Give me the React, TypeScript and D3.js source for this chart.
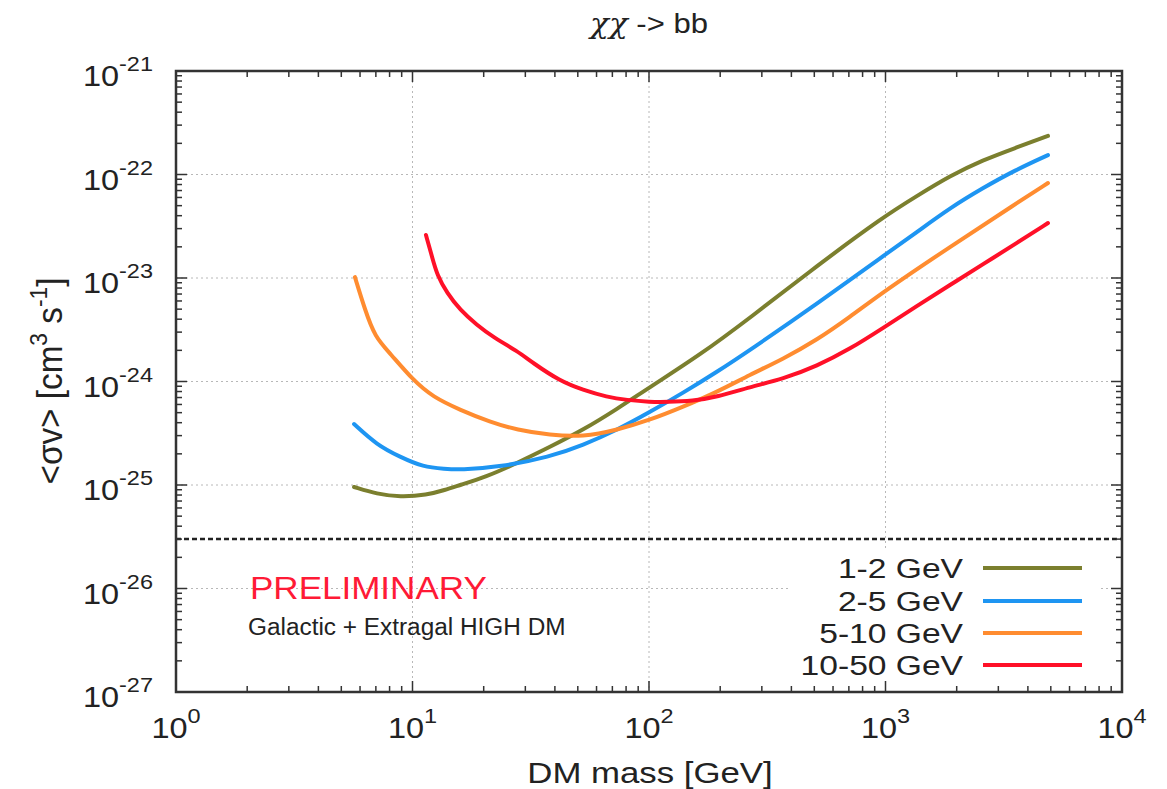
import React from "react";
import * as d3 from "d3";

// ---- Data ----
const series1Mass = [5.66, 7.08, 8.86, 11.5, 13.7, 15.9, 20.3, 27.7, 38.1, 52.6, 73.3, 101, 164, 267, 513, 976, 1358, 1874, 2583, 3530, 4864];
const series1Sv = [9.57e-26, 8.18e-26, 7.66e-26, 8.0e-26, 8.95e-26, 1.0e-25, 1.19e-25, 1.63e-25, 2.33e-25, 3.4e-25, 5.42e-25, 8.85e-25, 1.8e-24, 4.11e-24, 1.31e-23, 3.88e-23, 6.2e-23, 9.7e-23, 1.38e-22, 1.8e-22, 2.36e-22];

const series2Mass = [5.66, 7.08, 8.86, 11.1, 13.7, 15.9, 23.4, 38.1, 52.6, 73.3, 101, 139, 194, 267, 513, 976, 1358, 1874, 2583, 3530, 4864];
const series2Sv = [3.88e-25, 2.43e-25, 1.87e-25, 1.49e-25, 1.43e-25, 1.4e-25, 1.49e-25, 1.87e-25, 2.43e-25, 3.4e-25, 5.07e-25, 7.74e-25, 1.24e-24, 2.01e-24, 5.61e-24, 1.63e-23, 2.78e-23, 4.75e-23, 7.41e-23, 1.1e-22, 1.54e-22];

const series3Mass = [5.71, 6.3, 6.94, 8.03, 10.05, 12.2, 15.9, 21.3, 27.7, 38.1, 52.6, 73.3, 101, 139, 194, 267, 369, 513, 708, 976, 1874, 3597, 4864];
const series3Sv = [1.02e-23, 4.91e-24, 2.69e-24, 1.88e-24, 1.03e-24, 7.08e-25, 5.31e-25, 4.06e-25, 3.4e-25, 3.04e-25, 2.91e-25, 3.4e-25, 4.25e-25, 5.67e-25, 7.92e-25, 1.16e-24, 1.65e-24, 2.52e-24, 4.2e-24, 7.32e-24, 2.0e-23, 5.3e-23, 8.28e-23];

const series4Mass = [11.4, 12.1, 12.7, 14.0, 15.9, 18.7, 21.9, 27.7, 32.3, 42.0, 52.6, 66.4, 80.7, 101, 119, 153, 194, 267, 369, 513, 708, 976, 1358, 1874, 2583, 3597, 4864];
const series4Sv = [2.6e-23, 1.6e-23, 1.07e-23, 7.16e-24, 4.91e-24, 3.52e-24, 2.69e-24, 1.97e-24, 1.51e-24, 1.01e-24, 8.28e-25, 7.08e-25, 6.62e-25, 6.34e-25, 6.34e-25, 6.48e-25, 7.08e-25, 8.85e-25, 1.06e-24, 1.41e-24, 2.06e-24, 3.29e-24, 5.36e-24, 8.56e-24, 1.36e-23, 2.18e-23, 3.4e-23];

const seriesLabels = ["1-2 GeV", "2-5 GeV", "5-10 GeV", "10-50 GeV"];
const seriesColors = ["#7b7f2e", "#1e95f2", "#ff8c30", "#ff1028"];

const xTickExps = [0, 1, 2, 3, 4];
const yTickExps = [-21, -22, -23, -24, -25, -26, -27];
const thermalRelic = 3e-26;

const titleGreek = "χχ";
const titleRest = " -> bb";
const xLabel = "DM mass [GeV]";
const prelimText = "PRELIMINARY";
const subText = "Galactic + Extragal HIGH DM";

// ---- Layout ----
const W = 1167;
const H = 789;
const L = 176, R = 1122, T = 71, B = 692;

function Stretch({ x, y, sx = 1.14, children }: { x: number; y: number; sx?: number; children: React.ReactNode }) {
  return <g transform={`translate(${x},${y}) scale(${sx},1)`}>{children}</g>;
}

export default function App() {
  const x = d3.scaleLog().domain([1, 1e4]).range([L, R]);
  const y = d3.scaleLog().domain([1e-27, 1e-21]).range([B, T]);

  const masses = [series1Mass, series2Mass, series3Mass, series4Mass];
  const svs = [series1Sv, series2Sv, series3Sv, series4Sv];

  const line = d3
    .line<[number, number]>()
    .x((d) => x(d[0]))
    .y((d) => y(d[1]))
    .curve(d3.curveBasis);

  const xMinor: number[] = [];
  for (let e = 0; e < 4; e++) for (let k = 2; k <= 9; k++) xMinor.push(k * Math.pow(10, e));
  const yMinor: number[] = [];
  for (let e = -27; e < -21; e++) for (let k = 2; k <= 9; k++) yMinor.push(k * Math.pow(10, e));

  const font = "'Liberation Sans', Arial, Helvetica, sans-serif";
  const axisColor = "#333";
  const majorLen = 11, minorLen = 6;

  const legendRows = [568, 601, 633, 665];

  return (
    <svg width={W} height={H} style={{ position: "absolute", left: 0, top: 0, background: "#fff" }} fontFamily={font}>
      <rect x={0} y={0} width={W} height={H} fill="#fff" />
      {/* grid */}
      {xTickExps.slice(1, -1).map((e) => (
        <line key={"gx" + e} x1={x(10 ** e)} x2={x(10 ** e)} y1={T} y2={B} stroke="#b8b8b8" strokeWidth={1} strokeDasharray="2,3" />
      ))}
      {yTickExps.slice(1, -1).map((e) => (
        <line key={"gy" + e} x1={L} x2={R} y1={y(Math.pow(10, e))} y2={y(Math.pow(10, e))} stroke="#b8b8b8" strokeWidth={1} strokeDasharray="2,3" />
      ))}

      {/* legend backing box */}
      <rect x={790} y={548} width={310} height={136} fill="#fff" />

      {/* thermal relic line */}
      <line x1={L} x2={R} y1={y(thermalRelic)} y2={y(thermalRelic)} stroke="#222" strokeWidth={2.5} strokeDasharray="5,3" />

      {/* curves */}
      {masses.map((ms, i) => (
        <path
          key={"s" + i}
          d={line(ms.map((m, j) => [m, svs[i][j]] as [number, number])) || ""}
          fill="none"
          stroke={seriesColors[i]}
          strokeWidth={4}
          strokeLinejoin="round"
          strokeLinecap="round"
        />
      ))}

      {/* ticks */}
      {xTickExps.map((e) => {
        const px = x(10 ** e);
        return (
          <g key={"xt" + e}>
            <line x1={px} x2={px} y1={B} y2={B - majorLen} stroke={axisColor} strokeWidth={1.5} />
            <line x1={px} x2={px} y1={T} y2={T + majorLen} stroke={axisColor} strokeWidth={1.5} />
          </g>
        );
      })}
      {xMinor.map((v, i) => {
        const px = x(v);
        return (
          <g key={"xm" + i}>
            <line x1={px} x2={px} y1={B} y2={B - minorLen} stroke={axisColor} strokeWidth={1.5} />
            <line x1={px} x2={px} y1={T} y2={T + minorLen} stroke={axisColor} strokeWidth={1.5} />
          </g>
        );
      })}
      {yTickExps.map((e) => {
        const py = y(Math.pow(10, e));
        return (
          <g key={"yt" + e}>
            <line x1={L} x2={L + majorLen} y1={py} y2={py} stroke={axisColor} strokeWidth={1.5} />
            <line x1={R} x2={R - majorLen} y1={py} y2={py} stroke={axisColor} strokeWidth={1.5} />
          </g>
        );
      })}
      {yMinor.map((v, i) => {
        const py = y(v);
        return (
          <g key={"ym" + i}>
            <line x1={L} x2={L + minorLen} y1={py} y2={py} stroke={axisColor} strokeWidth={1.5} />
            <line x1={R} x2={R - minorLen} y1={py} y2={py} stroke={axisColor} strokeWidth={1.5} />
          </g>
        );
      })}

      {/* frame */}
      <rect x={L} y={T} width={R - L} height={B - T} fill="none" stroke={axisColor} strokeWidth={2.5} />

      {/* y tick labels */}
      {yTickExps.map((e) => (
        <Stretch key={"yl" + e} x={153} y={y(Math.pow(10, e)) + 15} sx={1.12}>
          <text textAnchor="end" fontSize={29} fill="#222">
            <tspan>10</tspan>
            <tspan dy={-15} fontSize={21}>{String(e)}</tspan>
          </text>
        </Stretch>
      ))}

      {/* x tick labels */}
      {xTickExps.map((e) => (
        <Stretch key={"xl" + e} x={x(10 ** e)} y={738} sx={1.12}>
          <text textAnchor="middle" fontSize={29} fill="#222">
            <tspan>10</tspan>
            <tspan dy={-15} fontSize={21}>{String(e)}</tspan>
          </text>
        </Stretch>
      ))}

      {/* title */}
      <Stretch x={(L + R) / 2} y={33} sx={1.15}>
        <text textAnchor="middle" fontSize={27} fill="#222">
          <tspan fontStyle="italic" fontFamily="'DejaVu Serif', serif">{titleGreek}</tspan>
          <tspan>{titleRest}</tspan>
        </text>
      </Stretch>

      {/* x label */}
      <Stretch x={650} y={783} sx={1.16}>
        <text textAnchor="middle" fontSize={30} fill="#222">{xLabel}</text>
      </Stretch>

      {/* y label */}
      <g transform={`translate(62,381) rotate(-90) scale(1.04,1.12)`}>
        <text textAnchor="middle" fontSize={32} fill="#222">
          <tspan>{"<σv> [cm"}</tspan>
          <tspan dy={-13} fontSize={22}>3</tspan>
          <tspan dy={13}>{" s"}</tspan>
          <tspan dy={-13} fontSize={22}>-1</tspan>
          <tspan dy={13}>]</tspan>
        </text>
      </g>

      {/* annotations */}
      <Stretch x={250} y={599} sx={1.13}>
        <text fontSize={31} fill="#ff1a36">{prelimText}</text>
      </Stretch>
      <Stretch x={248} y={635} sx={1.06}>
        <text fontSize={23} fill="#222">{subText}</text>
      </Stretch>

      {/* legend */}
      {seriesLabels.map((lab, i) => (
        <g key={"lg" + i}>
          <Stretch x={963} y={legendRows[i] + 10} sx={1.2}>
            <text textAnchor="end" fontSize={28} fill="#222">{lab}</text>
          </Stretch>
          <line x1={983} x2={1082} y1={legendRows[i]} y2={legendRows[i]} stroke={seriesColors[i]} strokeWidth={4} />
        </g>
      ))}
    </svg>
  );
}
